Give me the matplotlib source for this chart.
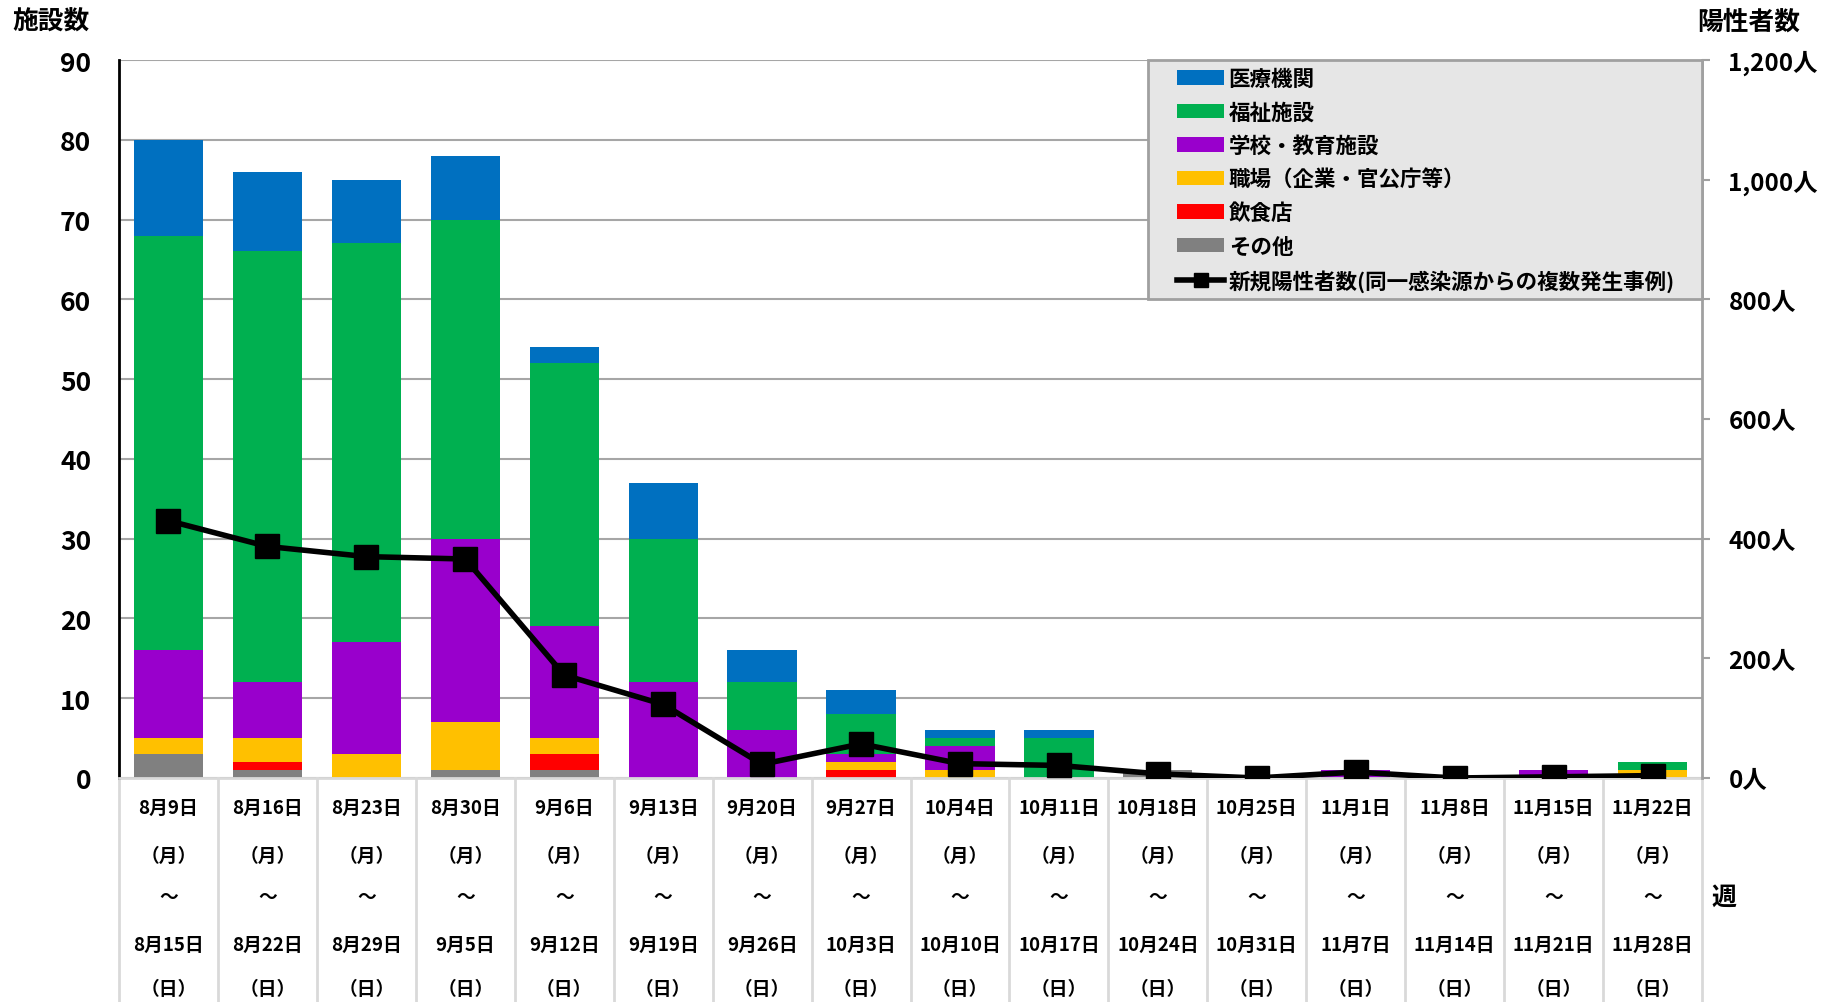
import matplotlib.pyplot as plt
from matplotlib.patches import Patch, Rectangle
from matplotlib.lines import Line2D
from matplotlib.ticker import FuncFormatter

plt.rcParams['font.family'] = ['Noto Sans CJK JP', 'DejaVu Sans']

# 週の開始日・終了日
start_days = ["8月9日", "8月16日", "8月23日", "8月30日", "9月6日", "9月13日", "9月20日", "9月27日",
              "10月4日", "10月11日", "10月18日", "10月25日", "11月1日", "11月8日", "11月15日", "11月22日"]
end_days = ["8月15日", "8月22日", "8月29日", "9月5日", "9月12日", "9月19日", "9月26日", "10月3日",
            "10月10日", "10月17日", "10月24日", "10月31日", "11月7日", "11月14日", "11月21日", "11月28日"]

# 施設数（下から積み上げ）
sonota = [3, 1, 0, 1, 1, 0, 0, 0, 0, 0, 1, 0, 0, 0, 0, 0]
inshoku = [0, 1, 0, 0, 2, 0, 0, 1, 0, 0, 0, 0, 0, 0, 0, 0]
shokuba = [2, 3, 3, 6, 2, 0, 0, 1, 1, 0, 0, 0, 0, 0, 0, 1]
gakko = [11, 7, 14, 23, 14, 12, 6, 1, 3, 0, 0, 0, 1, 0, 1, 0]
fukushi = [52, 54, 50, 40, 33, 18, 6, 5, 1, 5, 0, 0, 0, 0, 0, 1]
iryo = [12, 10, 8, 8, 2, 7, 4, 3, 1, 1, 0, 0, 0, 0, 0, 0]

# 新規陽性者数
positives = [430, 387, 370, 366, 172, 123, 23, 57, 24, 21, 7, 0, 10, 0, 2, 4]

series = [
    ("その他", sonota, "#808080"),
    ("飲食店", inshoku, "#ff0000"),
    ("職場（企業・官公庁等）", shokuba, "#ffc000"),
    ("学校・教育施設", gakko, "#9900cc"),
    ("福祉施設", fukushi, "#00b050"),
    ("医療機関", iryo, "#0070c0"),
]

fig = plt.figure(figsize=(18.39, 10.03), dpi=100)
ax = fig.add_axes([119 / 1839, 1 - 779 / 1003, (1702 - 119) / 1839, 718 / 1003])
ax2 = ax.twinx()

x = list(range(len(start_days)))
bottom = [0] * len(x)
for name, vals, col in series:
    ax.bar(x, vals, width=0.7, bottom=bottom, color=col, edgecolor='none', zorder=2)
    bottom = [b + v for b, v in zip(bottom, vals)]

ax2.plot(x, positives, color='black', lw=4, marker='s', markersize=17, zorder=3)

ax.set_xlim(-0.5, len(x) - 0.5)
ax.set_ylim(0, 90)
ax.set_yticks(range(0, 91, 10))
ax2.set_ylim(0, 1200)
ax2.set_yticks(range(0, 1201, 200))
ax2.yaxis.set_major_formatter(FuncFormatter(lambda v, p: f"{int(v):,}人"))

ax.grid(axis='y', color='#a6a6a6', lw=1.5, zorder=0)
ax.set_axisbelow(True)
ax.set_xticks([])

ax.tick_params(axis='y', labelsize=19, length=0, pad=20)
ax2.tick_params(axis='y', labelsize=17.5, length=6, width=1.5, pad=13, color='#a0a0a0')
for lbl in ax.get_yticklabels() + ax2.get_yticklabels():
    lbl.set_fontweight('bold')

ax.spines['top'].set_visible(False)
ax2.spines['top'].set_visible(False)
ax.spines['left'].set_color('black')
ax.spines['left'].set_linewidth(2)
ax2.spines['left'].set_visible(False)
ax2.spines['right'].set_color('#a0a0a0')
ax2.spines['right'].set_linewidth(2)
ax.spines['bottom'].set_color('#d9d9d9')
ax.spines['bottom'].set_linewidth(2)
ax2.spines['bottom'].set_visible(False)
ax.spines['right'].set_visible(False)

# 下のラベル枠
trans = ax.get_xaxis_transform()
for b in range(len(x) + 1):
    ax.plot([b - 0.5, b - 0.5], [0, -0.31], transform=trans, color='#d9d9d9', lw=2, clip_on=False)

rows_y = [-0.0404, -0.1072, -0.1657, -0.2312, -0.2925]
for i in x:
    texts = [start_days[i], "（月）", "～", end_days[i], "（日）"]
    for t, yy in zip(texts, rows_y):
        ax.text(i, yy, t, transform=trans, ha='center', va='center', fontsize=13.5, fontweight='bold')

fig.text(12 / 1839, 1 - 22 / 1003, "施設数", fontsize=18.5, fontweight='bold', ha='left', va='center')
fig.text(1697 / 1839, 1 - 22 / 1003, "陽性者数", fontsize=18.5, fontweight='bold', ha='left', va='center')
ax.text(1.006, -0.165, "週", transform=ax.transAxes, fontsize=18, fontweight='bold', ha='left', va='center')

# 凡例（枠は別に描く）
x0 = (1148 - 119) / (1702 - 119)
frame = Rectangle((x0, 2 / 3), 1 - x0, 1 / 3, transform=ax2.transAxes, facecolor='#e6e6e6',
                  edgecolor='#a0a0a0', lw=2, zorder=4, clip_on=False)
ax2.add_patch(frame)

handles = [Patch(facecolor=c) for n, v, c in reversed(series)]
labels = [n for n, v, c in reversed(series)]
handles.append(Line2D([0], [0], color='black', lw=4, marker='s', markersize=10))
labels.append("新規陽性者数(同一感染源からの複数発生事例)")
leg = ax2.legend(handles, labels, loc='upper left', bbox_to_anchor=((1177 - 119) / 1583, 1 - 8 / 718),
                 borderaxespad=0, frameon=False, prop={'size': 15.5, 'weight': 'bold'},
                 handlelength=2.2, handleheight=0.66, labelspacing=0.58, handletextpad=0.2, borderpad=0)
leg.set_zorder(5)

fig.savefig("out.png", dpi=100)
